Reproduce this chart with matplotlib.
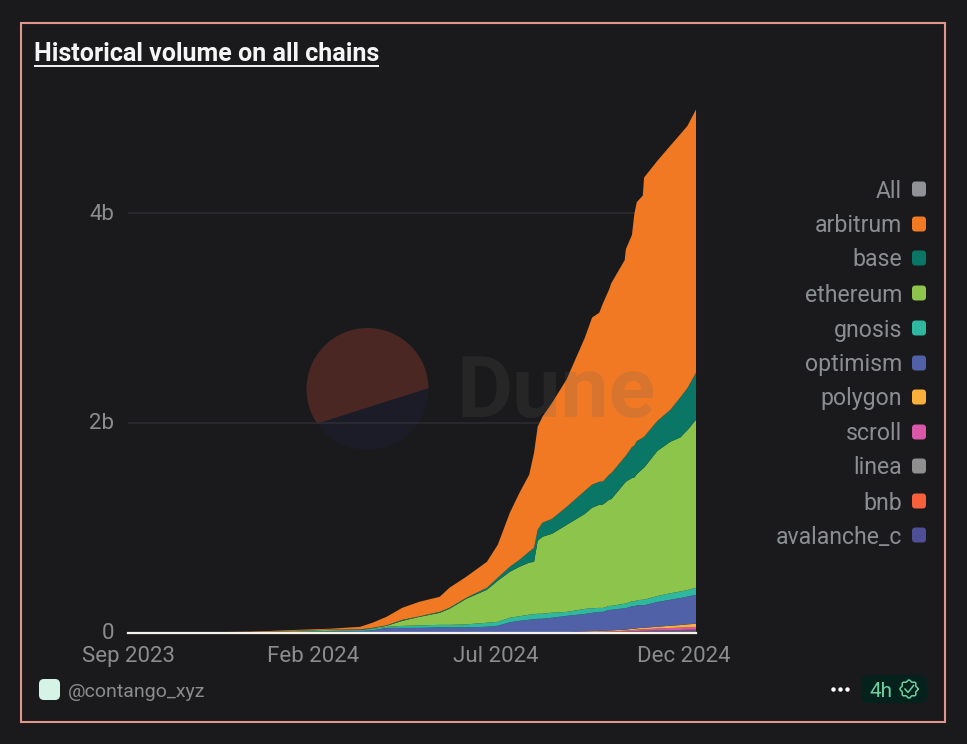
import numpy as np
import pandas as pd
import matplotlib
matplotlib.use("Agg")
import matplotlib.pyplot as plt
import matplotlib.dates as mdates
from matplotlib.patches import FancyBboxPatch, Rectangle, Circle, Polygon
from matplotlib.transforms import ScaledTranslation

plt.rcParams['font.family'] = ['Roboto', 'DejaVu Sans']

dates = pd.to_datetime([
    '2023-09-01', '2023-10-21', '2023-12-11', '2024-01-21', '2024-02-15', '2024-03-11', '2024-03-21',
    '2024-04-02', '2024-04-15', '2024-04-29', '2024-05-16', '2024-05-24', '2024-06-07', '2024-06-24',
    '2024-07-03', '2024-07-13', '2024-07-21', '2024-07-29', '2024-08-02', '2024-08-05', '2024-08-09',
    '2024-08-17', '2024-08-29', '2024-09-13', '2024-09-19', '2024-09-25', '2024-09-28', '2024-10-03',
    '2024-10-05', '2024-10-16', '2024-10-17', '2024-10-22', '2024-10-24', '2024-10-26', '2024-10-31',
    '2024-11-01', '2024-11-12', '2024-11-23', '2024-12-01', '2024-12-07', '2024-12-14'])

# values in billions
arbitrum = [0, .0005, .004, .008, .008, .024, .048, .081, .115, .139, .143, .191, .201, .248, .315, .516, .64,
            .735, .907, .984, 1.012, 1.108, 1.218, 1.461, 1.595, 1.614, 1.70, 1.767, 1.814, 1.881, 1.972, 2.025,
            2.211, 2.282, 2.311, 2.474, 2.483, 2.522, 2.512, 2.503, 2.512]
base = [0, 0, 0, .002, .002, .005, .005, .005, .01, .005, .01, .01, .01, .019, .029, .048, .067,
        .105, .134, .105, .134, .143, .172, .22, .22, .22, .22, .239, .248, .248, .248, .296,
        .306, .315, .296, .296, .286, .306, .382, .401, .449]
ethereum = [0, 0, .001, .005, .01, .002, .005, .01, .048, .081, .115, .153, .244, .315, .392, .439, .473,
            .497, .501, .697, .735, .754, .831, .907, .96, .984, .988, 1.012, 1.02, 1.151, 1.165, 1.175,
            1.184, 1.203, 1.251, 1.259, 1.385, 1.447, 1.471, 1.528, 1.604]
gnosis = [0, 0, .001, .005, .005, .008, .014, .01, .019, .024, .024, .024, .029, .038, .038, .043, .043,
          .048, .048, .048, .048, .048, .038, .048, .043, .038, .038, .038, .038, .043, .043, .048,
          .046, .048, .053, .053, .057, .062, .062, .062, .067]
optimism = [0, 0, .001, .005, .01, .014, .019, .043, .043, .043, .048, .048, .048, .053, .062, .096, .11,
            .12, .124, .129, .129, .139, .155, .167, .175, .181, .18, .196, .196, .205, .205, .215,
            .213, .22, .215, .215, .236, .248, .258, .265, .277]
polygon = [0, 0, .0005, .001, .001, .001, .001, .001, .001, .001, .001, .001, .001, .002, .002, .002, .002,
           .002, .002, .002, .002, .002, .003, .005, .006, .007, .007, .008, .008, .01, .01, .012,
           .012, .013, .014, .014, .017, .022, .025, .028, .03]
scroll = [0, 0, 0, 0, 0, 0, 0, 0, 0, 0, 0, 0, 0, 0, 0, 0, 0,
          0, 0, 0, 0, 0, .0005, .002, .003, .004, .004, .006, .006, .009, .009, .012,
          .012, .013, .015, .015, .018, .02, .022, .023, .025]
linea = [0, 0, 0, 0, 0, 0, 0, 0, 0, 0, 0, 0, 0, 0, 0, 0, 0,
         0, 0, 0, 0, 0, 0, .0005, .0005, .001, .001, .001, .001, .001, .001, .002,
         .002, .002, .002, .002, .002, .003, .003, .004, .004]
bnb = [0, 0, 0, 0, 0, 0, 0, 0, 0, 0, 0, 0, 0, 0, 0, 0, 0,
       0, 0, 0, 0, 0, 0, .0005, .0005, .001, .001, .001, .001, .001, .001, .002,
       .002, .002, .002, .002, .002, .003, .003, .004, .004]
avalanche_c = [0, 0, 0, 0, 0, 0, 0, 0, 0, 0, 0, 0, 0, 0, 0, 0, 0,
               0, 0, 0, 0, 0, 0, .002, .003, .003, .003, .004, .004, .006, .006, .008,
               .008, .01, .012, .012, .016, .017, .018, .019, .02]

stack_order = [avalanche_c, bnb, linea, scroll, polygon, optimism, gnosis, ethereum, base, arbitrum]
stack_colors = ['#4f4f95', '#f7603b', '#8f8f8f', '#d957a8', '#fbb03b', '#5061a8', '#2fb8a0', '#8dc44b', '#0a7766', '#f27924']

legend_names = ['All', 'arbitrum', 'base', 'ethereum', 'gnosis', 'optimism', 'polygon', 'scroll', 'linea', 'bnb', 'avalanche_c']
legend_colors = ['#8f9296', '#f27924', '#0a7766', '#8dc44b', '#2fb8a0', '#5061a8', '#fbb03b', '#d957a8', '#8f8f8f', '#f7603b', '#4f4f95']
legend_rows = [189, 224, 258, 293, 328, 363, 397, 432, 466, 501, 535]

x_ticks = pd.to_datetime(['2023-09-01', '2024-02-01', '2024-07-01', '2024-12-04'])
y_ticks = [0, 2, 4]
y_labels = ['0', '2b', '4b']

BG = '#1a1a1c'
W, H = 967, 744
fig = plt.figure(figsize=(W / 100, H / 100), dpi=100, facecolor=BG)

# watermark circle sits under the chart, dark disc with the red part clipped to above the chord
under = fig.add_axes([0, 0, 1, 1], zorder=0)
under.set_xlim(0, W)
under.set_ylim(H, 0)
under.axis('off')
under.add_patch(Circle((367.5, 389), 61, color='#1c1c28', lw=0))
red_disc = Circle((367.5, 389), 61, color='#4a2723', lw=0)
under.add_patch(red_disc)
chord = Polygon([(300, 429), (440, 384.5), (440, 320), (300, 320)], closed=True, transform=under.transData)
red_disc.set_clip_path(chord)

# main chart
left, right, top, bottom = 128, 696, 100, 632.5
ax = fig.add_axes([left / W, 1 - bottom / H, (right - left) / W, (bottom - top) / H], zorder=1)
ax.patch.set_alpha(0)
ax.stackplot(dates, stack_order, colors=stack_colors, linewidth=0, zorder=3)
ax.axhline(0, color='#f4f1ea', lw=1.6, zorder=4, clip_on=False)
ax.set_xlim(dates[0], dates[-1])
ax.set_ylim(0, 5.083)
ax.set_yticks(y_ticks)
ax.set_yticklabels(y_labels)
ax.set_xticks(x_ticks)
ax.xaxis.set_major_formatter(mdates.DateFormatter('%b %Y'))
ax.tick_params(length=0, labelsize=16, labelcolor='#8b8c8e')
ax.tick_params(axis='x', pad=9.5)
ax.tick_params(axis='y', pad=10)
ax.grid(axis='y', color='#2c2c30', lw=1.2, zorder=1)
ax.set_axisbelow(True)
for s in ax.spines.values():
    s.set_visible(False)
for lab in ax.get_yticklabels():
    lab.set_verticalalignment('center_baseline')
    lab.set_transform(lab.get_transform() + ScaledTranslation(0, 1.5 / 100, fig.dpi_scale_trans))

# everything else is drawn on an overlay in pixel coordinates
over = fig.add_axes([0, 0, 1, 1], zorder=2)
over.set_xlim(0, W)
over.set_ylim(H, 0)
over.axis('off')
over.patch.set_alpha(0)

over.add_patch(Rectangle((20.5, 22.5), 924, 699, fill=False, ec='#e0968a', lw=1.5))

over.text(34, 54, 'Historical volume on all chains', color='#f5f5f5', fontsize=18,
          fontweight='bold', va='center', ha='left')
over.plot([34, 379], [65.5, 65.5], color='#f5f5f5', lw=1.4, solid_capstyle='butt')

over.text(457, 417, 'Dune', color='#5e5e5e', alpha=0.18, fontsize=62, fontweight='bold', va='baseline', ha='left')

for name, color, row in zip(legend_names, legend_colors, legend_rows):
    over.text(902, row - 0.5, name, color='#8b8e92', fontsize=16.6, ha='right', va='center_baseline')
    over.add_patch(FancyBboxPatch((913, row - 6.5), 12, 13, boxstyle='round,pad=1,rounding_size=3.5', fc=color, ec='none'))

# footer
over.add_patch(FancyBboxPatch((41, 681), 17, 17, boxstyle='round,pad=2,rounding_size=5', fc='#d6f3e8', ec='none'))
over.text(68, 690, '@contango_xyz', color='#8b8c8e', fontsize=14, ha='left', va='center_baseline')

over.plot([833, 840, 846.5], [689, 689, 689], ls='none', marker='o', ms=3.2, color='white', mec='none')
over.add_patch(FancyBboxPatch((864, 678), 60, 22, boxstyle='round,pad=3,rounding_size=7', fc='#04211b', ec='none'))
over.text(869, 689.5, '4h', color='#6fcf9f', fontsize=15, ha='left', va='center_baseline')
theta = np.linspace(0, 2 * np.pi, 120)
radius = 8.2 + 0.8 * np.cos(8 * theta)
over.plot(909 + radius * np.cos(theta), 689 + radius * np.sin(theta), color='#6fcf9f', lw=1.1)
over.plot([905, 908, 913.5], [689, 692.5, 685.5], color='#6fcf9f', lw=1.1)

fig.savefig('out.png', dpi=100, facecolor=BG)
